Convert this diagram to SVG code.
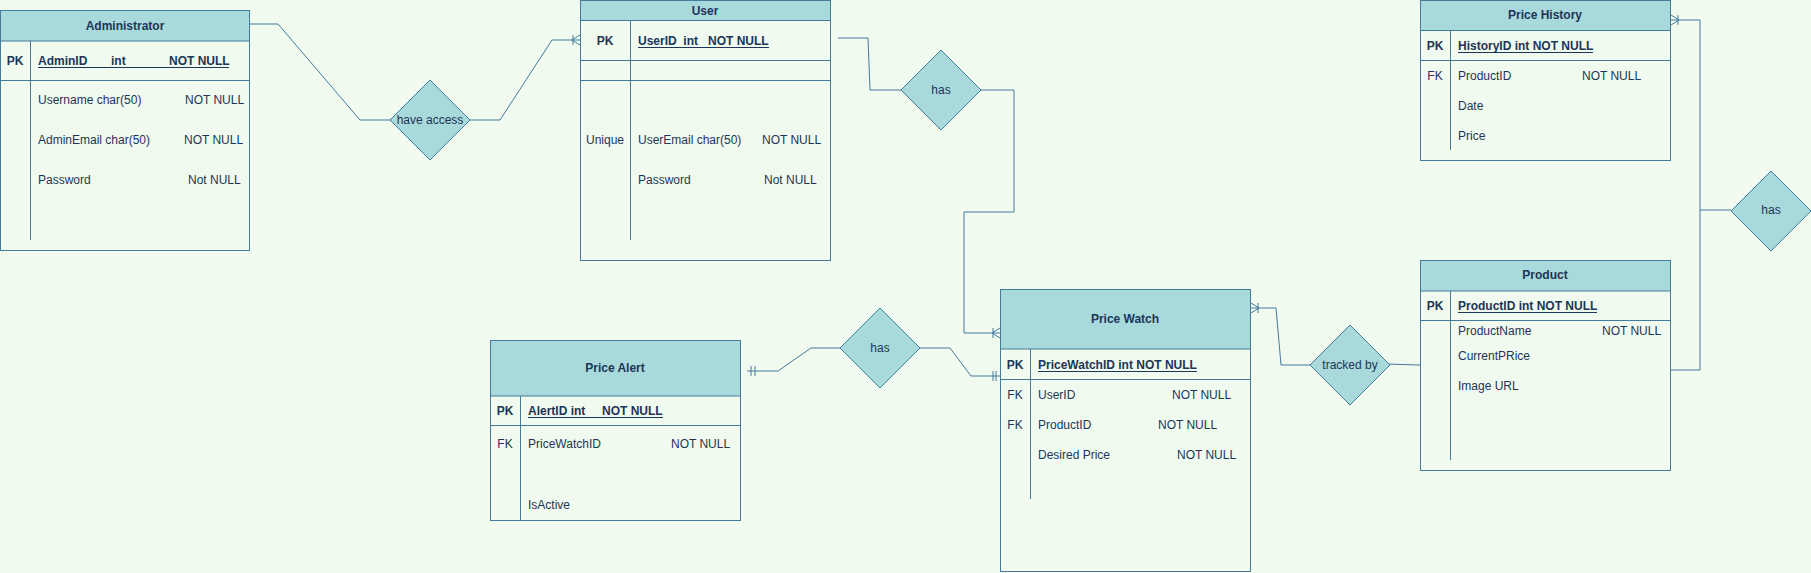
<svg xmlns="http://www.w3.org/2000/svg" width="1811" height="573" viewBox="0 0 1811 573">
<style>
text{font-family:"Liberation Sans",Arial,sans-serif;font-size:12px;fill:#1D3557;dominant-baseline:central}
.t{font-weight:bold;text-anchor:middle}
.b{font-weight:bold}
.c{text-anchor:middle}
.box{fill:#F1FAEE;stroke:#457B9D;stroke-width:1}
.hdr{fill:#A8DADC;stroke:#457B9D;stroke-width:1}
.ln{stroke:#457B9D;stroke-width:1;fill:none}
.ul{stroke:#1D3557;stroke-width:1}
.dia{fill:#A8DADC;stroke:#457B9D;stroke-width:1}
</style>
<rect width="1811" height="573" fill="#F1FAEE"/>

<g id="connectors" class="ln">
<path d="M248,24 L278,24 L360,120 L390,120"/>
<path d="M470,120 L500,120 L552,40 L580,40"/>
<path d="M573,35 L573,45 M572,40 L580,35 M572,40 L580,45"/>
<path d="M838,38 L868,38 L870,90 L901,90"/>
<path d="M981,90 L1014,90 L1014,212 L964,212 L964,333 L1000,333"/>
<path d="M993,328 L993,338 M992,333 L1000,328 M992,333 L1000,338"/>
<path d="M747,371 L778,371 L811,348 L841,348"/>
<path d="M751,366 L751,376 M755,366 L755,376"/>
<path d="M920,348 L950,348 L971,376 L1000,376"/>
<path d="M993,371 L993,381 M996,371 L996,381"/>
<path d="M1251,308 L1276,308 L1281,365 L1311,365"/>
<path d="M1258,303 L1258,313 M1259,308 L1251,303 M1259,308 L1251,313"/>
<path d="M1385,364 L1420,365"/>
<path d="M1670,370 L1700,370 L1700,20 L1671,20"/>
<path d="M1678,15 L1678,25 M1679,20 L1671,15 M1679,20 L1671,25"/>
<path d="M1700,210 L1731,210"/>
</g>

<g id="administrator">
<rect class="box" x="0.5" y="10.5" width="249" height="240"/>
<rect class="hdr" x="0.5" y="10.5" width="249" height="30.5"/>
<text class="t" x="125" y="26">Administrator</text>
<line class="ln" x1="0.5" y1="80.5" x2="249.5" y2="80.5"/>
<line class="ln" x1="30.5" y1="41" x2="30.5" y2="240"/>
<text class="b c" x="15" y="61">PK</text>
<text class="b" x="38" y="61">AdminID</text>
<text class="b" x="111" y="61">int</text>
<text class="b" x="169" y="61">NOT NULL</text>
<line class="ul" x1="38" y1="67.5" x2="229" y2="67.5"/>
<text x="38" y="100">Username char(50)</text>
<text x="185" y="100">NOT NULL</text>
<text x="38" y="140">AdminEmail char(50)</text>
<text x="184" y="140">NOT NULL</text>
<text x="38" y="180">Password</text>
<text x="188" y="180">Not NULL</text>
</g>

<g id="have-access">
<polygon class="dia" points="430,80 470,120 430,160 390,120"/>
<text class="c" x="430" y="120">have access</text>
</g>

<g id="user">
<rect class="box" x="580.5" y="0.5" width="250" height="260"/>
<rect class="hdr" x="580.5" y="0.5" width="250" height="20"/>
<text class="t" x="705" y="11">User</text>
<line class="ln" x1="580.5" y1="60.5" x2="830.5" y2="60.5"/>
<line class="ln" x1="580.5" y1="80.5" x2="830.5" y2="80.5"/>
<line class="ln" x1="630.5" y1="20.5" x2="630.5" y2="240"/>
<text class="b c" x="605" y="41">PK</text>
<text class="b" x="638" y="41" xml:space="preserve">UserID  int   NOT NULL</text>
<line class="ul" x1="638" y1="47.5" x2="769" y2="47.5"/>
<text class="c" x="605" y="140">Unique</text>
<text x="638" y="140">UserEmail char(50)</text>
<text x="762" y="140">NOT NULL</text>
<text x="638" y="180">Password</text>
<text x="764" y="180">Not NULL</text>
</g>

<g id="has-user">
<polygon class="dia" points="941,50 981,90 941,130 901,90"/>
<text class="c" x="941" y="90">has</text>
</g>

<g id="price-history">
<rect class="box" x="1420.5" y="0.5" width="250" height="160"/>
<rect class="hdr" x="1420.5" y="0.5" width="250" height="30"/>
<text class="t" x="1545" y="15">Price History</text>
<line class="ln" x1="1420.5" y1="60.5" x2="1670.5" y2="60.5"/>
<line class="ln" x1="1450.5" y1="30.5" x2="1450.5" y2="150"/>
<text class="b c" x="1435" y="46">PK</text>
<text class="b" x="1458" y="46">HistoryID int NOT NULL</text>
<line class="ul" x1="1458" y1="52.5" x2="1593" y2="52.5"/>
<text class="c" x="1435" y="76">FK</text>
<text x="1458" y="76">ProductID</text>
<text x="1582" y="76">NOT NULL</text>
<text x="1458" y="106">Date</text>
<text x="1458" y="136">Price</text>
</g>

<g id="has-history">
<polygon class="dia" points="1771,171 1811,211 1771,251 1731,211"/>
<text class="c" x="1771" y="210">has</text>
</g>

<g id="product">
<rect class="box" x="1420.5" y="260.5" width="250" height="210"/>
<rect class="hdr" x="1420.5" y="260.5" width="250" height="30.5"/>
<text class="t" x="1545" y="275">Product</text>
<line class="ln" x1="1420.5" y1="320.5" x2="1670.5" y2="320.5"/>
<line class="ln" x1="1450.5" y1="291" x2="1450.5" y2="460"/>
<text class="b c" x="1435" y="306">PK</text>
<text class="b" x="1458" y="306">ProductID int NOT NULL</text>
<line class="ul" x1="1458" y1="312.5" x2="1597" y2="312.5"/>
<text x="1458" y="331">ProductName</text>
<text x="1602" y="331">NOT NULL</text>
<text x="1458" y="356">CurrentPRice</text>
<text x="1458" y="386">Image URL</text>
</g>

<g id="tracked-by">
<polygon class="dia" points="1350,325 1390,365 1350,405 1310,365"/>
<text class="c" x="1350" y="365">tracked by</text>
</g>

<g id="price-watch">
<rect class="box" x="1000.5" y="289.5" width="250" height="282"/>
<rect class="hdr" x="1000.5" y="289.5" width="250" height="59.5"/>
<text class="t" x="1125" y="319">Price Watch</text>
<line class="ln" x1="1000.5" y1="379.5" x2="1250.5" y2="379.5"/>
<line class="ln" x1="1030.5" y1="349" x2="1030.5" y2="499"/>
<text class="b c" x="1015" y="365">PK</text>
<text class="b" x="1038" y="365">PriceWatchID int NOT NULL</text>
<line class="ul" x1="1038" y1="371.5" x2="1197" y2="371.5"/>
<text class="c" x="1015" y="395">FK</text>
<text x="1038" y="395">UserID</text>
<text x="1172" y="395">NOT NULL</text>
<text class="c" x="1015" y="425">FK</text>
<text x="1038" y="425">ProductID</text>
<text x="1158" y="425">NOT NULL</text>
<text x="1038" y="455">Desired Price</text>
<text x="1177" y="455">NOT NULL</text>
</g>

<g id="has-alert">
<polygon class="dia" points="880,308 920,348 880,388 840,348"/>
<text class="c" x="880" y="348">has</text>
</g>

<g id="price-alert">
<rect class="box" x="490.5" y="340.5" width="250" height="180"/>
<rect class="hdr" x="490.5" y="340.5" width="250" height="55.5"/>
<text class="t" x="615" y="368">Price Alert</text>
<line class="ln" x1="490.5" y1="425.5" x2="740.5" y2="425.5"/>
<line class="ln" x1="520.5" y1="396" x2="520.5" y2="520"/>
<text class="b c" x="505" y="411">PK</text>
<text class="b" x="528" y="411" xml:space="preserve">AlertID int     NOT NULL</text>
<line class="ul" x1="528" y1="417.5" x2="663" y2="417.5"/>
<text class="c" x="505" y="444">FK</text>
<text x="528" y="444">PriceWatchID</text>
<text x="671" y="444">NOT NULL</text>
<text x="528" y="505">IsActive</text>
</g>
</svg>
